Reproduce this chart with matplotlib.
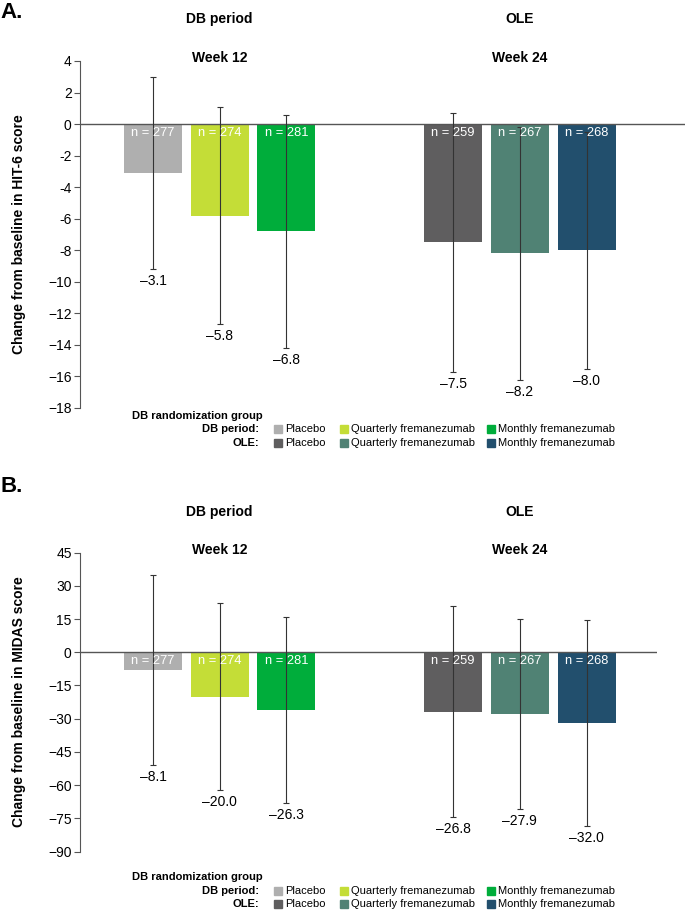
import numpy as np
import matplotlib.pyplot as plt
from matplotlib.patches import Rectangle
from matplotlib.transforms import blended_transform_factory

plt.rcParams['font.family'] = ['Liberation Sans Narrow', 'Liberation Sans', 'DejaVu Sans']

# Data
groups = ['DB period', 'OLE']
timepoints = ['Week 12', 'Week 24']
treatments = ['Placebo', 'Quarterly fremanezumab', 'Monthly fremanezumab']
n_counts = [277, 274, 281, 259, 267, 268]

hit6_mean = [-3.1, -5.8, -6.8, -7.5, -8.2, -8.0]
hit6_sd = [6.1, 6.9, 7.4, 8.2, 8.0, 7.5]
midas_mean = [-8.1, -20.0, -26.3, -26.8, -27.9, -32.0]
midas_sd = [43.0, 42.4, 42.0, 47.6, 42.9, 46.7]

hit6_ticks = [4, 2, 0, -2, -4, -6, -8, -10, -12, -14, -16, -18]
hit6_ticklabels = ['4', '2', '0', '-2', '-4', '-6', '-8', '\u221210', '\u221212',
                   '\u221214', '\u221216', '\u221218']
midas_ticks = [45, 30, 15, 0, -15, -30, -45, -60, -75, -90]
midas_ticklabels = ['45', '30', '15', '0', '\u221215', '\u221230', '\u221245',
                    '\u221260', '\u221275', '\u221290']

db_colors = ['#afafaf', '#c4dd37', '#00ad3b']
ole_colors = ['#5f5e5f', '#508274', '#224f6d']

W, H = 685, 910
fig = plt.figure(figsize=(W / 100, H / 100), dpi=100)


def fx(px):
    return px / W


def fy(py):
    return 1 - py / H


# bar centres: three per group, 1.5 slot gap between groups
x = np.concatenate([np.arange(3), np.arange(3) + 4.5])
slot = 66.7  # pixels per x unit
x0_px = 153
ax_left = 80


def draw_panel(right_px, top_px, bottom_px, means, sds, ticks, ticklabels, ylabel,
               letter, letter_y, group_y, week_y, legend_y):
    ax = fig.add_axes([fx(ax_left), fy(bottom_px), fx(right_px - ax_left),
                       (bottom_px - top_px) / H])
    ax.set_xlim((ax_left - x0_px) / slot, (right_px - x0_px) / slot)
    ax.set_ylim(ticks[-1], ticks[0])

    means = np.array(means)
    sds = np.array(sds)
    ax.bar(x, means, width=0.87, color=db_colors + ole_colors, zorder=2)
    ax.axhline(0, color='#555555', lw=1, zorder=3)
    ax.errorbar(x, means, yerr=sds, fmt='none', ecolor='#333333', elinewidth=0.8,
                capsize=2, capthick=0.8, zorder=4)

    for xi, m, s, n in zip(x, means, sds, n_counts):
        ax.annotate(f'{m:.1f}'.replace('-', '\u2013'), xy=(xi, m - s), xytext=(0, -12),
                    textcoords='offset pixels', ha='center', va='center', fontsize=10)
        ax.annotate(f'n = {n}', xy=(xi, 0), xytext=(0, -9), textcoords='offset pixels',
                    ha='center', va='center', color='white', fontsize=9.3, zorder=5)

    for s in ['top', 'right', 'bottom']:
        ax.spines[s].set_visible(False)
    ax.spines['left'].set_color('#555555')
    ax.spines['left'].set_linewidth(0.8)
    ax.set_xticks([])
    ax.set_yticks(ticks)
    ax.set_yticklabels(ticklabels)
    ax.tick_params(axis='y', direction='out', length=4, width=0.8, color='#555555',
                   labelsize=10, pad=2)
    ax.set_ylabel(ylabel, fontsize=10, fontweight='bold',
                  family=['Liberation Sans', 'DejaVu Sans'])
    ax.yaxis.set_label_coords((26 - ax_left) / (right_px - ax_left), 0.5)

    trans = blended_transform_factory(ax.transData, fig.transFigure)
    centres = [x[:3].mean(), x[3:].mean()]
    for c, g, w in zip(centres, groups, timepoints):
        ax.text(c, fy(group_y), g, transform=trans, ha='center', va='center',
                fontweight='bold', fontsize=10)
        ax.text(c, fy(week_y), w, transform=trans, ha='center', va='center',
                fontweight='bold', fontsize=10)

    fig.text(0, fy(letter_y), letter, ha='left', va='center', fontsize=16,
             fontweight='bold', family=['Liberation Sans', 'DejaVu Sans'])

    # legend
    fig.text(fx(132), fy(legend_y), 'DB randomization group', ha='left', va='center',
             fontsize=8, fontweight='bold')
    patch_x = [274, 340, 487]
    for row, (lab, cols) in enumerate(zip(['DB period:', 'OLE:'], [db_colors, ole_colors])):
        yy = legend_y + 13.4 * (row + 1)
        fig.text(fx(259), fy(yy), lab, ha='right', va='center', fontsize=8,
                 fontweight='bold')
        for px, col, t in zip(patch_x, cols, treatments):
            fig.patches.append(Rectangle((fx(px), fy(yy + 4)), fx(8), 8 / H, color=col,
                                         transform=fig.transFigure, figure=fig))
            fig.text(fx(px + 11), fy(yy), t, ha='left', va='center', fontsize=8)
    return ax


draw_panel(685, 61, 408, hit6_mean, hit6_sd, hit6_ticks, hit6_ticklabels,
           'Change from baseline in HIT-6 score', 'A.', 12, 19, 58, 416)
draw_panel(657, 552.6, 851.5, midas_mean, midas_sd, midas_ticks, midas_ticklabels,
           'Change from baseline in MIDAS score', 'B.', 487, 511.7, 550, 877.3)

fig.savefig('out.png', dpi=100)
